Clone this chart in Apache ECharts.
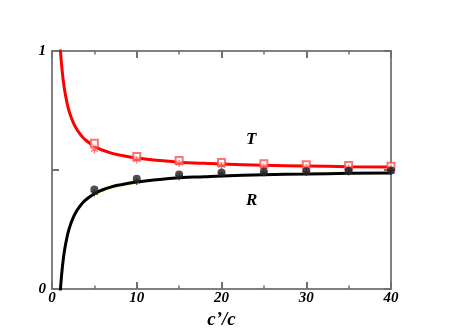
<!DOCTYPE html>
<html><head><meta charset="utf-8">
<script src="https://cdn.jsdelivr.net/npm/echarts@6/dist/echarts.min.js"></script>
<style>html,body{margin:0;padding:0;background:#fff}#c{width:468px;height:331px}</style>
</head><body><div id="c"></div>
<script>
// curve abscissae (c'/c)
const curveX = [0.95, 1, 1.1, 1.2, 1.35, 1.5, 1.75, 2, 2.5, 3, 3.5, 4, 5, 6, 7, 8, 10, 12, 15, 18, 20, 25, 30, 35, 40];
const curveT = [1.03, 1.0, 0.955, 0.917, 0.870, 0.833, 0.786, 0.750, 0.700, 0.667, 0.643, 0.625, 0.600, 0.583, 0.571, 0.5625, 0.550, 0.542, 0.533, 0.528, 0.525, 0.520, 0.517, 0.514, 0.5125];
const curveR = [-0.03, 0.0, 0.045, 0.083, 0.130, 0.167, 0.214, 0.250, 0.300, 0.333, 0.357, 0.375, 0.400, 0.417, 0.429, 0.4375, 0.450, 0.458, 0.467, 0.472, 0.475, 0.480, 0.483, 0.486, 0.4875];
// measured points
const ptX = [5, 10, 15, 20, 25, 30, 35, 40];
const tSquares = [0.612, 0.557, 0.540, 0.532, 0.526, 0.522, 0.519, 0.516];
const tStars = [0.585, 0.542, 0.527, 0.518, 0.512, 0.509, 0.507, 0.505];
const rCircles = [0.418, 0.463, 0.481, 0.489, 0.493, 0.495, 0.497, 0.498];
const rStars = [0.403, 0.452, 0.472, 0.482, 0.487, 0.490, 0.492, 0.494];
const xTicks = [0, 10, 20, 30, 40];
const yTickLabels = {0: '0', 1: '1'};

const zip = (xs, ys) => xs.map((x, i) => [x, ys[i]]);
const star = 'path://M0,-5L0,5M-4.33,-2.5L4.33,2.5M-4.33,2.5L4.33,-2.5';
const font = {fontFamily: 'Liberation Serif', fontWeight: 'bold', fontStyle: 'italic', color: '#000'};
const axisLine = {show: true, onZero: false, lineStyle: {color: '#808080', width: 2}};
const majorTick = {show: true, inside: true, length: 7, interval: 0, lineStyle: {color: '#707070', width: 2}};
const minorTick = {show: true, splitNumber: 2, length: 3.5, lineStyle: {color: '#707070', width: 1.5}};

const chart = echarts.init(document.getElementById('c'), null, {renderer: 'canvas'});
chart.setOption({
  animation: false,
  backgroundColor: '#fff',
  grid: {left: 52, right: 77, top: 51, bottom: 42, containLabel: false, outerBoundsMode: 'none'},
  xAxis: [{
    type: 'value', min: 0, max: 40, interval: 10, position: 'bottom',
    axisLine: axisLine, axisTick: majorTick, minorTick: minorTick,
    splitLine: {show: false},
    axisLabel: Object.assign({fontSize: 15, margin: 2, formatter: v => xTicks.includes(v) ? String(v) : ''}, font),
    name: "c\u2019/c", nameLocation: 'middle', nameGap: 13,
    nameTextStyle: Object.assign({fontSize: 19}, font)
  }, {
    type: 'value', min: 0, max: 40, interval: 10, position: 'top',
    axisLine: axisLine, axisTick: majorTick, minorTick: minorTick,
    splitLine: {show: false}, axisLabel: {show: false}
  }],
  yAxis: [{
    type: 'value', min: 0, max: 1, interval: 0.5, position: 'left',
    axisLine: axisLine, axisTick: majorTick,
    splitLine: {show: false},
    axisLabel: Object.assign({fontSize: 15, margin: 6, formatter: v => yTickLabels[v] || ''}, font)
  }, {
    type: 'value', min: 0, max: 1, interval: 0.5, position: 'right',
    axisLine: axisLine, axisTick: majorTick,
    splitLine: {show: false}, axisLabel: {show: false}
  }],
  series: [
    {type: 'line', data: zip(curveX.slice(12, 17), curveR.slice(12, 17).map(v => v - 0.004)), showSymbol: false, smooth: true,
     lineStyle: {color: '#e8e000', width: 1.5}, z: 1, clip: true},
    {type: 'line', data: zip(curveX, curveT), showSymbol: false, smooth: true,
     lineStyle: {color: '#ff0000', width: 3}, z: 2, clip: true},
    {type: 'line', data: zip(curveX, curveR), showSymbol: false, smooth: true,
     lineStyle: {color: '#000', width: 3}, z: 2, clip: true},
    {type: 'scatter', data: zip(ptX, tSquares), symbol: 'emptyRect', symbolSize: 7,
     itemStyle: {color: '#ff5050', borderColor: '#ff5050', borderWidth: 1}, z: 3},
    {type: 'scatter', data: zip(ptX, tStars), symbol: star, symbolSize: 7,
     itemStyle: {color: 'none', borderColor: '#ff4040', borderWidth: 1.2}, z: 3},
    {type: 'scatter', data: zip(ptX, rCircles), symbol: 'circle', symbolSize: 8,
     itemStyle: {color: '#222'}, z: 3},
    {type: 'scatter', data: zip(ptX, rStars), symbol: star, symbolSize: 7,
     itemStyle: {color: 'none', borderColor: '#222', borderWidth: 1.2}, z: 3}
  ],
  graphic: [
    {type: 'text', left: 246, top: 131, style: {text: 'T', fontSize: 17, fontFamily: 'Liberation Serif', fontWeight: 'bold', fontStyle: 'italic', fill: '#000'}},
    {type: 'text', left: 246, top: 192, style: {text: 'R', fontSize: 17, fontFamily: 'Liberation Serif', fontWeight: 'bold', fontStyle: 'italic', fill: '#000'}}
  ]
});
</script>
</body></html>
